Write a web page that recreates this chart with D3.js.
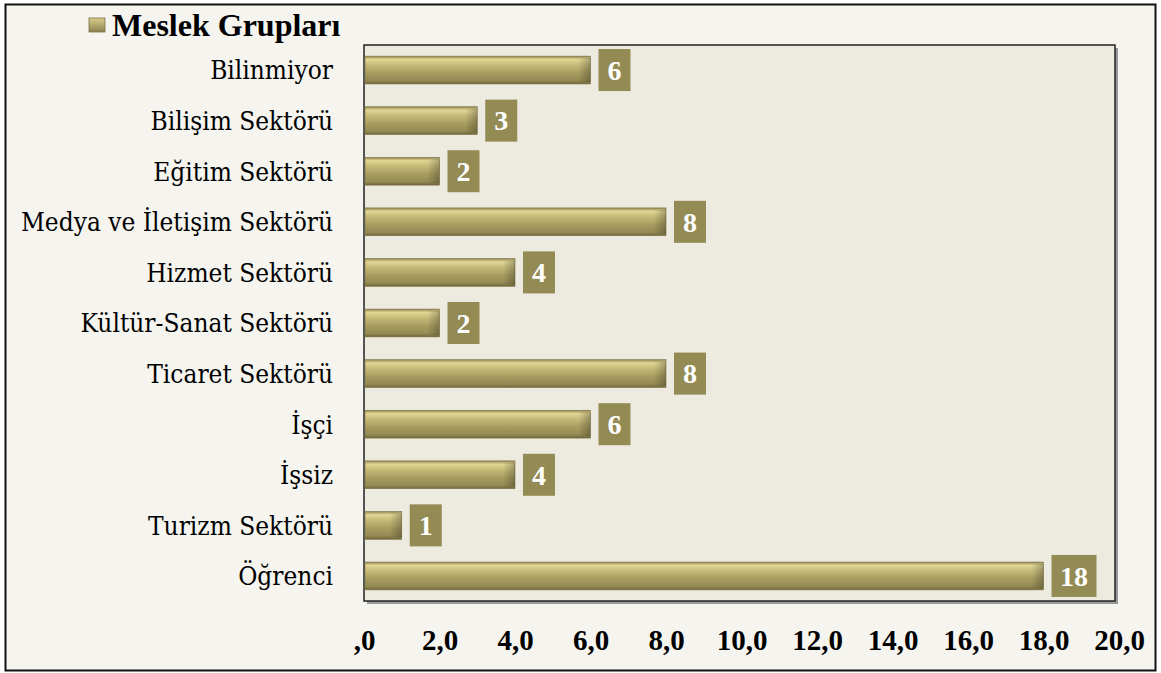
<!DOCTYPE html>
<html>
<head>
<meta charset="utf-8">
<script src="https://cdn.jsdelivr.net/npm/d3@7"></script>
<style>
  body { margin: 0; background: #fff; }
  svg { display: block; }
</style>
</head>
<body>
<svg width="1161" height="673"></svg>
<script>
// data
const categories = ["Bilinmiyor", "Bilişim Sektörü", "Eğitim Sektörü", "Medya ve İletişim Sektörü",
  "Hizmet Sektörü", "Kültür-Sanat Sektörü", "Ticaret Sektörü", "İşçi", "İşsiz", "Turizm Sektörü", "Öğrenci"];
const values = [6, 3, 2, 8, 4, 2, 8, 6, 4, 1, 18];
const xTicks = [0, 2, 4, 6, 8, 10, 12, 14, 16, 18, 20];
const seriesName = "Meslek Grupları";

const serif = "'Liberation Serif', 'Times New Roman', Times, serif";
const serifRegular = "'DejaVu Serif Condensed', 'DejaVu Serif', serif";

let svg = d3.select("svg"),
  plot = { left: 364, top: 45, right: 1115, bottom: 601 };

let x = d3.scaleLinear().domain([0, 20]).range([plot.left, 1119]),
  y = d3.scaleBand().domain(categories).range([plot.top, plot.bottom]).paddingInner(0.45).paddingOuter(0.22);

let defs = svg.append("defs");
let grad = defs.append("linearGradient").attr("id", "barGrad")
  .attr("x1", 0).attr("y1", 0).attr("x2", 0).attr("y2", 1);
[[0, "#8f8552"], [0.12, "#e2d694"], [0.3, "#c8bc7b"], [0.6, "#a89c60"], [0.88, "#958a54"], [1, "#6e6538"]]
  .forEach(s => grad.append("stop").attr("offset", s[0]).attr("stop-color", s[1]));
let endGrad = defs.append("linearGradient").attr("id", "endGrad")
  .attr("x1", 0).attr("y1", 0).attr("x2", 1).attr("y2", 0);
endGrad.append("stop").attr("offset", 0).attr("stop-color", "#000").attr("stop-opacity", 0);
endGrad.append("stop").attr("offset", 1).attr("stop-color", "#000").attr("stop-opacity", 0.25);
let legGrad = defs.append("linearGradient").attr("id", "legGrad")
  .attr("x1", 0).attr("y1", 0).attr("x2", 0).attr("y2", 1);
legGrad.append("stop").attr("offset", 0).attr("stop-color", "#d9cd8c");
legGrad.append("stop").attr("offset", 1).attr("stop-color", "#8c8150");

// outer frame
svg.append("rect").attr("x", 5.5).attr("y", 4.5).attr("width", 1150).attr("height", 666)
  .attr("fill", "#f5f4ef").attr("stroke", "#111").attr("stroke-width", 2);

// plot area with shadow
svg.append("rect").attr("x", plot.left + 3).attr("y", plot.top + 3)
  .attr("width", plot.right - plot.left).attr("height", plot.bottom - plot.top)
  .attr("fill", "#999");
svg.append("rect").attr("x", plot.left).attr("y", plot.top)
  .attr("width", plot.right - plot.left).attr("height", plot.bottom - plot.top)
  .attr("fill", "#edeae0").attr("stroke", "#222").attr("stroke-width", 1.5);

// bars
let bar = svg.selectAll(".bar")
  .data(categories.map((c, i) => ({ cat: c, val: values[i] })))
  .enter().append("g").attr("class", "bar");

bar.append("rect")
  .attr("x", x(0) + 1)
  .attr("y", d => y(d.cat))
  .attr("width", d => x(d.val) - x(0) - 1)
  .attr("height", y.bandwidth())
  .attr("fill", "url(#barGrad)")
  .attr("stroke", "#7d7345").attr("stroke-width", 0.6);

bar.append("rect")
  .attr("x", d => x(d.val) - 12)
  .attr("y", d => y(d.cat) + 2)
  .attr("width", 12)
  .attr("height", y.bandwidth() - 4)
  .attr("fill", "url(#endGrad)");

// value labels
bar.each(function (d) {
  let g = d3.select(this);
  let txt = String(d.val);
  let w = txt.length > 1 ? 45 : 32;
  let bx = x(d.val) + 8, cy = y(d.cat) + y.bandwidth() / 2;
  g.append("rect").attr("x", bx).attr("y", cy - 21).attr("width", w).attr("height", 42)
    .attr("fill", "#948a54");
  g.append("text").attr("x", bx + w / 2).attr("y", cy).attr("dy", "0.35em")
    .attr("text-anchor", "middle")
    .attr("font-family", serif).attr("font-weight", "bold").attr("font-size", 28)
    .attr("fill", "#fff")
    .text(txt);
});

// category labels
svg.append("g").selectAll("text")
  .data(categories).enter().append("text")
  .attr("x", 333)
  .attr("y", d => y(d) + y.bandwidth() / 2)
  .attr("dy", "0.36em")
  .attr("text-anchor", "end")
  .attr("font-family", serifRegular).attr("font-size", 26)
  .attr("fill", "#000")
  .text(d => d);

// x axis labels
let fmt = d => d === 0 ? ",0" : d.toFixed(1).replace(".", ",");
let xAxis = svg.append("g")
  .attr("transform", "translate(0,626)")
  .call(d3.axisBottom(x).tickValues(xTicks).tickFormat(fmt).tickSize(0));
xAxis.select(".domain").remove();
xAxis.attr("font-family", serif).attr("font-size", 29).attr("font-weight", "bold");
xAxis.selectAll("text").attr("fill", "#000");

// legend title
svg.append("rect").attr("x", 89).attr("y", 18).attr("width", 16).attr("height", 14)
  .attr("fill", "url(#legGrad)").attr("stroke", "#7d7345").attr("stroke-width", 0.8);
svg.append("text").attr("x", 112).attr("y", 36)
  .attr("font-family", serif).attr("font-weight", "bold").attr("font-size", 32)
  .attr("fill", "#000")
  .text(seriesName);
</script>
</body>
</html>
